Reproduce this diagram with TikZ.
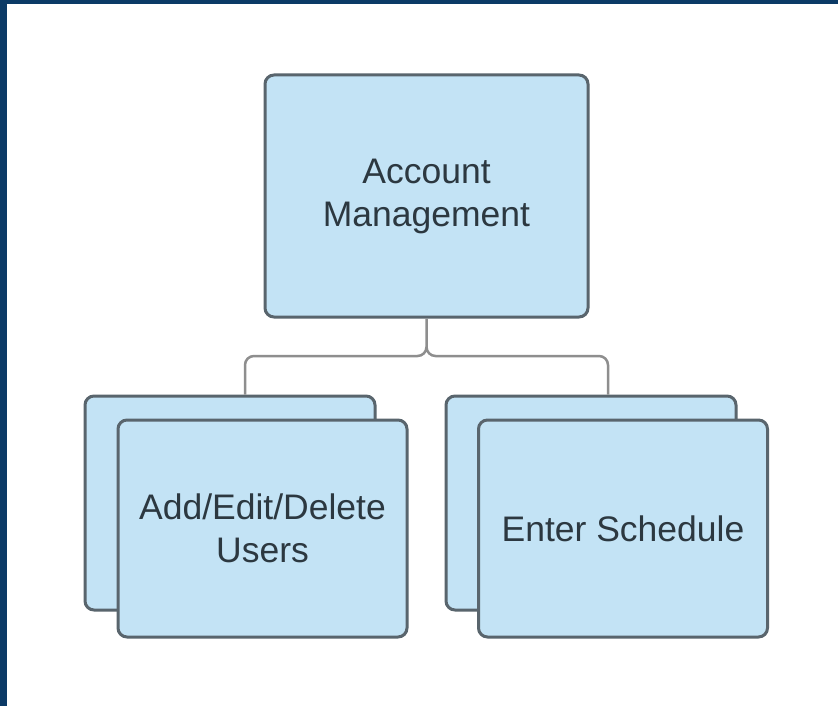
\documentclass[tikz,border=0pt]{standalone}
\usepackage{fontspec}
\setmainfont{Liberation Sans}
\usepackage{tikz}
\usetikzlibrary{calc}
\definecolor{frameblue}{HTML}{0B3A66}
\definecolor{boxfill}{HTML}{C3E3F5}
\definecolor{boxline}{HTML}{59656D}
\definecolor{linkgray}{HTML}{8E8E8E}
\definecolor{txtcol}{HTML}{2C3840}

\begin{document}
\begin{tikzpicture}[x=1pt,y=1pt]
        \tikzset{BoxStyle/.style = {shape = rectangle, rounded corners = 9, fill = boxfill, draw = boxline,
            line width = 3, text = txtcol, align = center, inner sep = 0,
            font = \fontsize{35.5}{43}\selectfont},
            LinkStyle/.style = {draw = linkgray, line width = 2.5, rounded corners = 9}}
    \useasboundingbox (0,0) rectangle (838,-706);
    \fill[white] (0,0) rectangle (838,-706);
    \fill[frameblue] (0,0) rectangle (838,-4);
    \fill[frameblue] (0,0) rectangle (7,-706);

    \node[BoxStyle, minimum width = 323, minimum height = 242] at (426.5,-196) (acct) {Account\\Management};
    \node[BoxStyle, minimum width = 290, minimum height = 214] at (230,-503) (usersback) {};
    \node[BoxStyle, minimum width = 289, minimum height = 217] at (262.5,-528.5) (users) {Add/Edit/Delete\\Users};
    \node[BoxStyle, minimum width = 290, minimum height = 214] at (591,-503) (schedback) {};
    \node[BoxStyle, minimum width = 289, minimum height = 217] at (623,-528.5) (sched) {Enter Schedule};

    \coordinate (fork) at (426.5,-356);
    \path[LinkStyle]
        (acct.south) -- (fork) -| ($(usersback.north)+(15,0)$)
        (acct.south) -- (fork) -| ($(schedback.north)+(17,0)$)
        ;
\end{tikzpicture}
\end{document}
